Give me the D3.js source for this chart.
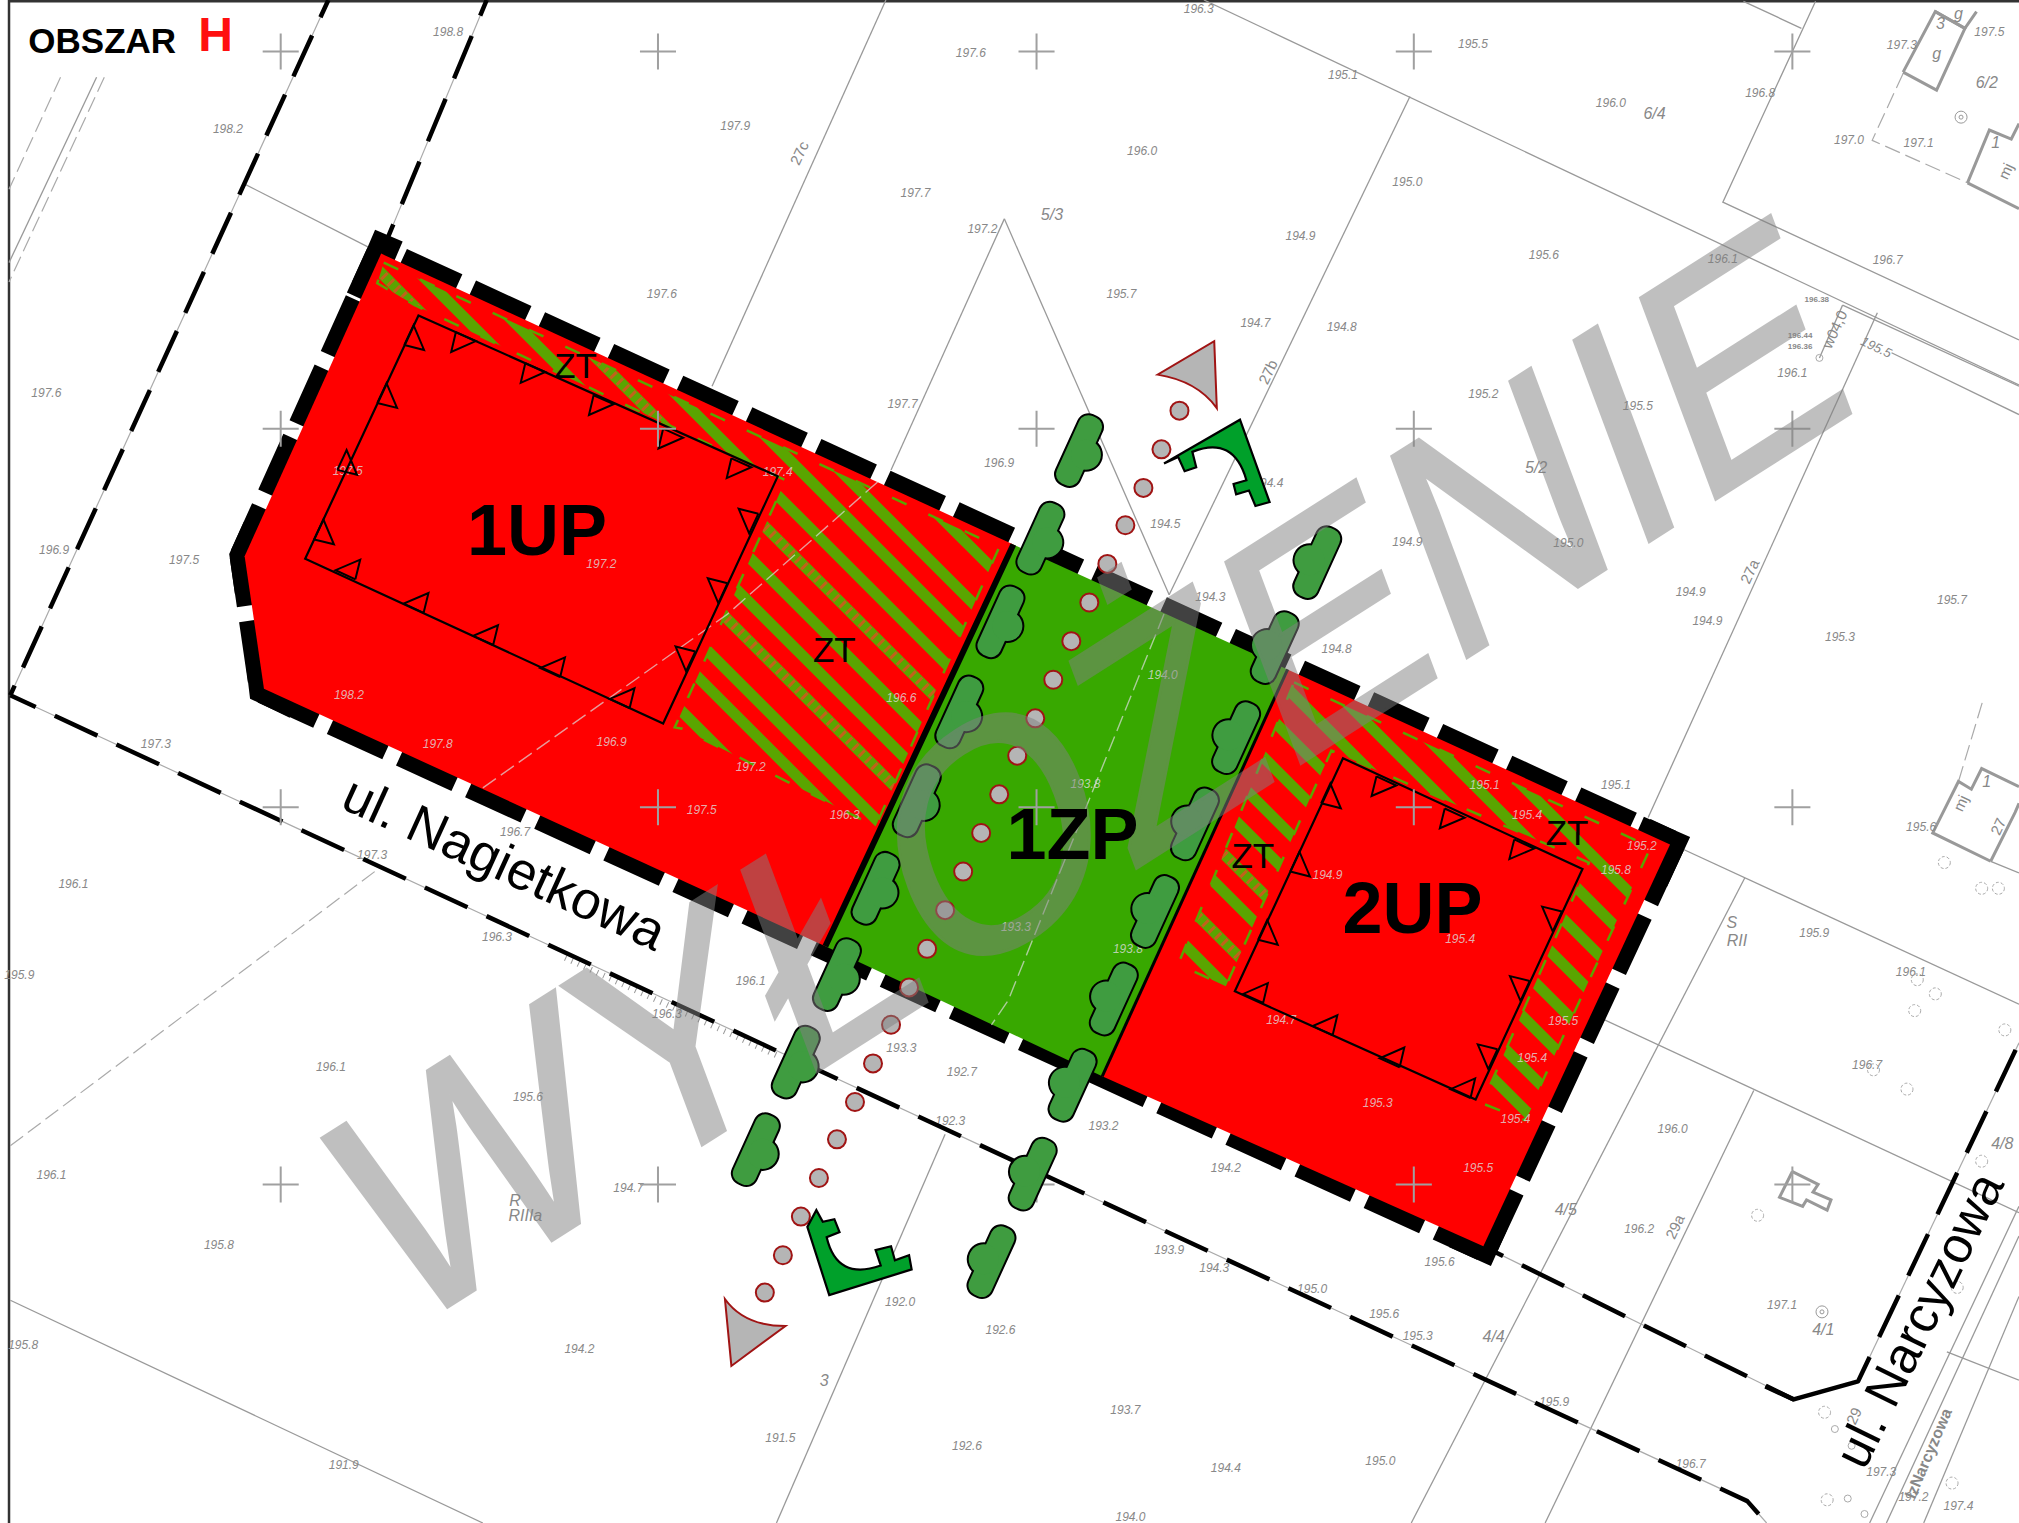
<!DOCTYPE html>
<html>
<head>
<meta charset="utf-8">
<script src="https://cdn.jsdelivr.net/npm/d3@7"></script>
<style>
	html, body { margin: 0; padding: 0; background: white; }
	svg { display: block; }
	text { font-family: "Liberation Sans", Arial, sans-serif; }
</style>
</head>
<body>
<div id="plan"></div>
<script>
'use strict'

// everything below in a 1568 x 1183 base
var gridX = [218, 511, 805, 1098, 1392];
var gridY = [40, 333, 627, 920];

var parcelLines = [
	[[190,143],[296,197]],
	[[688,0],[553,300]],
	[[780,170],[692,365]],
	[[780,170],[908,462]],
	[[1095,75],[908,462]],
	[[935,0],[1568,299]],
	[[1354,1],[1399,22]],
	[[1410,1],[1338,157],[1568,264]],
	[[1458,243],[1280,635]],
	[[1431,237],[1568,300]],
	[[1431,237],[1413,278]],
	[[1469,274],[1568,322]],
	[[1297,655],[1568,780]],
	[[1235,787],[1568,942]],
	[[1355,682],[1096,1183]],
	[[1362,847],[1200,1183]],
	[[1568,937],[1452,1183]],
	[[1568,960],[1465,1183]],
	[[1568,1007],[1494,1183]],
	[[1512,1050],[1568,1072]],
	[[8,1010],[375,1183]],
	[[734,881],[603,1183]],
	[[75,60],[7,204]],
	[[1546,669],[1568,678]]
];
var dashedLines = [
	[[47,60],[7,147]],
	[[81,60],[7,219]],
	[[1478,57],[1454,109],[1528,142]],
	[[8,890],[295,674]],
	[[1521,607],[1540,544]]
];
var paleLines = [
	[[375,612],[565,477],[682,374]],
	[[904,477],[783,777],[770,796]]
];
var buildings = [
	[[1478,56],[1504,70],[1526,22],[1503,9],[1478,56]],
	[[1503,9],[1526,22],[1535,9]],
	[[1528,142],[1545,101],[1562,108],[1568,96]],
	[[1528,142],[1568,162]],
	[[1546,669],[1501,647],[1521,607],[1531,613],[1539,597],[1568,611]],
	[[1546,669],[1565,631],[1568,624]],
	[[1392,910],[1412,920],[1408,926],[1422,932],[1419,940],[1403,932],[1400,937],[1382,930],[1392,910]]
];
var dashedCircles = [[1455,831],[1481,846],[1539,902],[1365,944],[1520,1000],[1417,1097],[1419,1165],[1516,1152],[1510,670],[1539,690],[1552,690],[1489,761],[1503,772],[1487,785],[1557,800]];
var smallCircles = [[1425,1110],[1438,1123],[1435,1164],[1448,1176],[1413,278]];
var wells = [[1523,91],[1415,1019]];

var roads = [
	{ pts: [[255,0],[8,540]], dash: "45 20", offset: -39 },
	{ pts: [[378,0],[296,197]], dash: "46 22", offset: -39 },
	{ pts: [[8,540],[1357,1166],[1372,1183]], dash: "47 21", offset: -49 },
	{ pts: [[1152,968],[1393,1087]], dash: "47 21", offset: -43 },
	{ pts: [[1452,1054],[1568,810]], dash: "46 22", offset: -22 },
	{ pts: [[1371,1077],[1393,1087],[1443,1073],[1452,1054]], dash: null, offset: 0 }
];

// outer edges of the plan with the start of their dash pattern
var edges = [
	{ pts: [[296,197],[1297,656]], offset: -21.5 },
	{ pts: [[1297,656],[1152,968]], offset: 0 },
	{ pts: [[205,535],[1152,968]], offset: 0 },
	{ pts: [[205,535],[190,432]], offset: -8.5 },
	{ pts: [[296,197],[190,432]], offset: 23.5 }
];
var corners = [
	[[302,183],[296,197],[280,232]],
	[[1272,645],[1297,656],[1284,684]],
	[[1160,950],[1152,968],[1130,958]],
	[[202,510],[205,535],[230,547]],
	[[200,410],[190,432],[194,460]]
];
var area1UP = [[296,197],[787,423],[641,735],[205,535],[190,432]];
var area1ZP = [[787,423],[1000,520],[856,836],[641,735]];
var area2UP = [[1000,520],[1297,656],[1152,968],[856,836]];

var hatch1 = [[298,204],[776,425],[680,642],[530,566],[524,565],[610,373],[322,237],[293,220]];
var hatch2 = [[1005,530],[1282,658],[1184,870],[1151,857],[1234,670],[1034,583],[952,766],[915,749]];
var stripes1 = [-329,-287,-256,-219,-185,-149,-114,-84,-44,-16,23];
var stripes2 = [-572,-535,-500,-465,-429,-393,-354,-322,-287,-258,-219,-186];
var brown1 = [-185,-84];
var brown2 = [-287,-219];

var build1 = [[325,245],[604,370],[515,562],[237,434]];
var build2 = [[1043,589],[1229,675],[1146,854],[959,770]];
// corner index of the edge + start of the triangle on it
var teeth1 = [
	[0,[354,258]],[0,[408,282]],[0,[461,307]],[0,[515,333]],[0,[568,356]],
	[1,[589,399]],[1,[565,453]],[1,[540,506]],
	[2,[489,550]],[2,[435,526]],[2,[383,501]],[2,[329,476]],[2,[276,450]],
	[3,[244,419]],[3,[262,365]],[3,[293,313]],[3,[314,268]]
];
var teeth2 = [
	[0,[1069,603]],[0,[1122,628]],[0,[1176,652]],
	[1,[1213,708]],[1,[1188,762]],[1,[1163,815]],
	[2,[1142,853]],[2,[1087,829]],[2,[1035,804]],[2,[981,779]],
	[3,[977,730]],[3,[1002,677]],[3,[1026,624]]
];

var treesLeft = [[838,350],[808,418],[777,483],[745,553],[712,622],[680,690],[650,757],[618,825],[587,893]];
var treesRight = [[1023,437],[990,503],[960,573],[928,640],[897,708],[865,776],[833,843],[802,912],[770,980]];
var dots = [[916,319],[902,349],[888,379],[874,408],[860,438],[846,468],[832,498],[818,528],[804,558],[790,587],[776,617],[762,647],[748,677],[734,707],[720,737],[706,767],[692,796],[678,826],[664,856],[650,885],[636,915],[622,945],[608,975],[594,1004]];

var gateTop = [[968,373],[926,351],[929,363],[920,366],[915,355],[904,360],[963,326],[986,390],[975,393],[970,381],[960,384],[958,376]];
var gateTopCtrl = [958,338];
var gateBottom = [[642,961],[684,983],[680,971],[692,968],[695,979],[706,975],[708,986],[644,1006],[627,953],[634,940],[639,949],[648,947],[652,957]];
var gateBottomCtrl = [650,995];
var markerTop = [[899,291],[943,265],[945,317]];
var markerTopCtrl = [930,296];
var markerBottom = [[610,1030],[568,1061],[563,1009]];
var markerBottomCtrl = [578,1030];

var heights = [
	["198.8",348,25],["197.6",754,41],["196.3",931,7],["195.5",1144,34],["195.1",1043,58],["198.2",177,100],["197.9",571,98],["196.0",887,117],["196.0",1251,80],["195.0",1093,141],
	["197.7",711,150],["197.2",763,178],["194.9",1010,183],["195.6",1199,198],["196.7",1466,202],["196.1",1338,201],["197.6",514,228],["195.7",871,228],["194.7",975,251],["194.8",1042,254],
	["197.6",36,305],["197.7",701,314],["195.2",1152,306],["195.5",1272,315],["196.1",1392,290],["196.9",776,360],["194.5",905,407],["194.4",985,375],["196.9",42,427],["197.5",143,435],
	["194.9",1093,421],["195.0",1218,422],["194.3",940,464],["194.9",1313,460],["194.9",1326,482],["195.7",1516,466],["195.3",1429,495],["194.8",1038,504],["195.1",1255,610],["197.3",121,578],
	["197.3",289,664],["196.7",400,646],["196.1",57,687],["196.3",386,728],["195.9",15,757],["196.1",583,762],["196.3",518,788],["196.1",257,829],["195.6",410,852],["194.7",488,923],
	["196.1",40,913],["195.8",170,967],["193.3",700,814],["192.7",747,833],["192.3",738,871],["193.2",857,875],["194.2",952,907],["193.9",908,971],["194.3",943,985],["195.0",1019,1001],
	["195.6",1075,1021],["195.3",1101,1038],["195.6",1118,980],["192.0",699,1011],["192.6",777,1033],["195.8",18,1045],["194.2",450,1048],["191.5",606,1117],["192.6",751,1123],["193.7",874,1095],
	["194.4",952,1140],["195.0",1072,1135],["195.9",1207,1089],["196.7",1313,1137],["191.9",267,1138],["194.0",878,1178],["197.4",1521,1170],["197.2",1486,1163],["197.3",1461,1143],["197.1",1384,1014],
	["196.2",1273,955],["196.0",1299,877],["196.7",1450,827],["195.9",1409,725],["196.1",1484,755],["195.6",1492,642],["197.5",1545,25],["197.3",1477,35],["196.8",1367,72],["197.0",1436,109],["197.1",1490,111]
];
var heightsOnFill = [
	["197.5",270,366],["197.2",467,438],["197.4",604,367],["198.2",271,540],["197.8",340,578],["196.9",475,576],["197.2",583,596],["197.5",545,629],["196.3",656,633],["196.6",700,542],
	["194.9",1031,680],["195.4",1134,729],["194.7",995,792],["195.3",1070,857],["195.5",1148,907],["195.4",1190,822],["195.4",1177,869],["195.5",1214,793],["195.1",1153,610],["195.4",1186,633],
	["195.2",1275,657],["195.8",1255,676],["193.8",843,609],["193.3",789,720],["193.8",876,737],["194.0",903,524]
];
var parcelNames = [["5/3",817,166],["6/4",1285,88],["6/2",1543,64],["5/2",1193,363],["4/5",1216,939],["4/4",1160,1038],["4/1",1416,1032],["4/8",1555,888],["3",640,1072],["RIIIa",408,944],["S",1345,716],["RII",1349,730],["R",400,932],["1",1543,607],["1",1550,110],["3",1507,18],["g",1504,41],["g",1521,10]];
var rotatedNames = [["27c",621,119],["27b",985,289],["27a",1359,444],["29a",1301,953],["29",1440,1100],["mj",1523,624],["27",1552,642],["mj",1558,133],["w04,0",1425,256]];
var tinyBold = [["196.38",1411,232],["196.44",1398,260],["196.36",1398,269]];
var zoneLabels = [["1UP",417,431],["1ZP",833,667],["2UP",1097,725]];
var ztLabels = [["ZT",447,294],["ZT",648,514],["ZT",973,674],["ZT",1217,656]];

var width = 2019;
var height = 1523;

var x = d3.scaleLinear().domain([0, 1568]).range([0, width]);
var y = d3.scaleLinear().domain([0, 1183]).range([0, height]);

var line = d3.line().x(function(d){ return x(d[0]); }).y(function(d){ return y(d[1]); });

function pointXY(p){ return x(p[0]) + "," + y(p[1]); }

// first point -> curve -> remaining points
function curved(pts, ctrl){
	var s = "M" + pointXY(pts[0]) + "Q" + pointXY(ctrl) + " " + pointXY(pts[1]);
	pts.slice(2).forEach(function(p){ s += "L" + pointXY(p); });
	return s + "Z";
}

function tooth(rect, e){
	var a = rect[e[0]], b = rect[(e[0] + 1) % 4];
	var l = Math.hypot(b[0]-a[0], b[1]-a[1]);
	var u = [(b[0]-a[0])/l, (b[1]-a[1])/l];
	var n = [-u[1], u[0]];
	var p = e[1];
	return [p, [p[0]+u[0]*17, p[1]+u[1]*17], [p[0]+u[0]*3+n[0]*15.5, p[1]+u[1]*3+n[1]*15.5], p];
}

var svg = d3.select("#plan")
	.append("svg")
	.attr("width", width)
	.attr("height", height)
	.style("background", "white");

// frame
svg.append("path").attr("d", line([[7,1183],[7,1],[1568,1]]))
	.attr("fill", "none").attr("stroke", "#333").attr("stroke-width", 2.5);

// base map
svg.append("g").selectAll("path").data(parcelLines).enter().append("path")
	.attr("d", line).attr("fill", "none").attr("stroke", "#999").attr("stroke-width", 1.3);
svg.append("g").selectAll("path").data(dashedLines).enter().append("path")
	.attr("d", line).attr("fill", "none").attr("stroke", "#aaa").attr("stroke-width", 1.2).attr("stroke-dasharray", "16 6");
svg.append("g").selectAll("path").data(buildings).enter().append("path")
	.attr("d", line).attr("fill", "none").attr("stroke", "#999").attr("stroke-width", 3);
svg.append("g").selectAll("circle").data(dashedCircles).enter().append("circle")
	.attr("cx", function(d){ return x(d[0]); }).attr("cy", function(d){ return y(d[1]); }).attr("r", 6)
	.attr("fill", "none").attr("stroke", "#aaa").attr("stroke-width", 1).attr("stroke-dasharray", "3 2");
svg.append("g").selectAll("circle").data(smallCircles).enter().append("circle")
	.attr("cx", function(d){ return x(d[0]); }).attr("cy", function(d){ return y(d[1]); }).attr("r", 3.5)
	.attr("fill", "none").attr("stroke", "#aaa").attr("stroke-width", 1);
svg.append("g").selectAll("circle").data(wells.concat(wells)).enter().append("circle")
	.attr("cx", function(d){ return x(d[0]); }).attr("cy", function(d){ return y(d[1]); })
	.attr("r", function(d, i){ return i < wells.length ? 6 : 2; })
	.attr("fill", "none").attr("stroke", "#999").attr("stroke-width", 1);

// ticks along the road
svg.append("path").attr("d", line([[439,744],[606,821]]))
	.attr("fill", "none").attr("stroke", "#999").attr("stroke-width", 6).attr("stroke-dasharray", "1 6");

svg.append("g").selectAll("text").data(heights).enter().append("text")
	.attr("x", function(d){ return x(d[1]); }).attr("y", function(d){ return y(d[2]) + 4; })
	.attr("text-anchor", "middle").attr("font-size", 12).attr("font-style", "italic").attr("fill", "#888")
	.text(function(d){ return d[0]; });
svg.append("g").selectAll("text").data(parcelNames).enter().append("text")
	.attr("x", function(d){ return x(d[1]); }).attr("y", function(d){ return y(d[2]) + 6; })
	.attr("text-anchor", "middle").attr("font-size", 16).attr("font-style", "italic").attr("fill", "#888")
	.text(function(d){ return d[0]; });
svg.append("g").selectAll("text").data(rotatedNames).enter().append("text")
	.attr("transform", function(d){ return "translate(" + x(d[1]) + "," + y(d[2]) + ") rotate(-65)"; })
	.attr("text-anchor", "middle").attr("dy", 5).attr("font-size", 15).attr("fill", "#888")
	.text(function(d){ return d[0]; });
svg.append("g").selectAll("text").data(tinyBold).enter().append("text")
	.attr("x", function(d){ return x(d[1]); }).attr("y", function(d){ return y(d[2]) + 3; })
	.attr("text-anchor", "middle").attr("font-size", 8).attr("font-weight", "bold").attr("fill", "#888")
	.text(function(d){ return d[0]; });
svg.append("text")
	.attr("transform", "translate(" + x(1457) + "," + y(270) + ") rotate(25)")
	.attr("text-anchor", "middle").attr("dy", 4).attr("font-size", 13).attr("font-style", "italic").attr("fill", "#888")
	.text("195.5");

// streets: thin line + thick dashes
svg.append("g").selectAll("path").data(roads).enter().append("path")
	.attr("d", function(d){ return line(d.pts); }).attr("fill", "none").attr("stroke", "#aaa").attr("stroke-width", 1.2);
svg.append("g").selectAll("path").data(roads).enter().append("path")
	.attr("d", function(d){ return line(d.pts); }).attr("fill", "none").attr("stroke", "black").attr("stroke-width", 4.5)
	.attr("stroke-linejoin", "round")
	.attr("stroke-dasharray", function(d){ return d.dash; })
	.attr("stroke-dashoffset", function(d){ return d.offset; });

// plan boundary, the fills below cover its inner half
svg.append("g").selectAll("path").data(edges).enter().append("path")
	.attr("d", function(d){ return line(d.pts); })
	.attr("fill", "none").attr("stroke", "black").attr("stroke-width", 30)
	.attr("stroke-dasharray", "61 15").attr("stroke-dashoffset", function(d){ return d.offset; });
svg.append("g").selectAll("path").data(corners).enter().append("path")
	.attr("d", line).attr("fill", "none").attr("stroke", "black").attr("stroke-width", 30).attr("stroke-linejoin", "miter");

svg.append("path").attr("d", line(area1UP) + "Z").attr("fill", "#ff0000");
svg.append("path").attr("d", line(area2UP) + "Z").attr("fill", "#ff0000");
svg.append("path").attr("d", line(area1ZP) + "Z").attr("fill", "#38a800");

// ZT hatch
var defs = svg.append("defs");
defs.append("clipPath").attr("id", "clip1").append("path").attr("d", line(hatch1) + "Z");
defs.append("clipPath").attr("id", "clip2").append("path").attr("d", line(hatch2) + "Z");

function stripe(c){ return line([[100, 100 + c], [1500, 1500 + c]]); }

[[ "clip1", stripes1, brown1, hatch1 ], [ "clip2", stripes2, brown2, hatch2 ]].forEach(function(h){
	var g = svg.append("g").attr("clip-path", "url(#" + h[0] + ")");
	g.selectAll("path.stripe").data(h[1]).enter().append("path").attr("class", "stripe")
		.attr("d", stripe).attr("fill", "none").attr("stroke", "#5aa500").attr("stroke-width", 11);
	g.selectAll("path.tick").data(h[2]).enter().append("path").attr("class", "tick")
		.attr("d", stripe).attr("fill", "none").attr("stroke", "#c2611a").attr("stroke-width", 9).attr("stroke-dasharray", "3 6");
	svg.append("path").attr("d", line(h[3]) + "Z")
		.attr("fill", "none").attr("stroke", "#5aa500").attr("stroke-width", 2.5).attr("stroke-dasharray", "16 24");
});

// faint lines showing through the zones
svg.append("g").selectAll("path").data(paleLines).enter().append("path")
	.attr("d", line).attr("fill", "none").attr("stroke", "#ddd").attr("stroke-opacity", 0.7)
	.attr("stroke-width", 1.4).attr("stroke-dasharray", "16 6");

// edges between the zones
svg.append("path").attr("d", line([[787,423],[641,735]])).attr("stroke", "black").attr("stroke-width", 6).attr("fill", "none");
svg.append("path").attr("d", line([[1000,520],[856,836]])).attr("stroke", "black").attr("stroke-width", 3).attr("fill", "none");

svg.append("g").selectAll("text").data(heightsOnFill).enter().append("text")
	.attr("x", function(d){ return x(d[1]); }).attr("y", function(d){ return y(d[2]) + 4; })
	.attr("text-anchor", "middle").attr("font-size", 12).attr("font-style", "italic").attr("fill", "#ddd").attr("fill-opacity", 0.8)
	.text(function(d){ return d[0]; });

// building lines with teeth
[[build1, teeth1], [build2, teeth2]].forEach(function(b){
	svg.append("path").attr("d", line(b[0]) + "Z").attr("fill", "none").attr("stroke", "black").attr("stroke-width", 2.2);
	svg.append("g").selectAll("path").data(b[1]).enter().append("path")
		.attr("d", function(d){ return line(tooth(b[0], d)); })
		.attr("fill", "none").attr("stroke", "black").attr("stroke-width", 2);
});

// grid crosses
gridY.forEach(function(gy){
	gridX.forEach(function(gx){
		svg.append("path").attr("d", line([[gx-14,gy],[gx+14,gy]]) + line([[gx,gy-14],[gx,gy+14]]))
			.attr("stroke", "#a0a0a0").attr("stroke-width", 2).attr("fill", "none");
	});
});

// trees, outline pass first then fill so the bump and the body merge
var trees = treesLeft.map(function(d){ return [d[0], d[1], 1]; })
	.concat(treesRight.map(function(d){ return [d[0], d[1], -1]; }));

function drawTrees(stroke, fill, sw){
	var g = svg.append("g").selectAll("g").data(trees).enter().append("g")
		.attr("transform", function(d){ return "translate(" + x(d[0]) + "," + y(d[1]) + ") rotate(24.5)"; });
	g.append("rect").attr("x", -12).attr("y", -37).attr("width", 24).attr("height", 74).attr("rx", 10)
		.attr("fill", fill).attr("stroke", stroke).attr("stroke-width", sw);
	g.append("circle").attr("cx", function(d){ return d[2] * 8; }).attr("cy", 1).attr("r", 15)
		.attr("fill", fill).attr("stroke", stroke).attr("stroke-width", sw);
}
drawTrees("black", "black", 4);
drawTrees("none", "#3f9c40", 0);

// alley
svg.append("g").selectAll("circle").data(dots).enter().append("circle")
	.attr("cx", function(d){ return x(d[0]); }).attr("cy", function(d){ return y(d[1]); }).attr("r", 9)
	.attr("fill", "#b5b5b5").attr("stroke", "#a01414").attr("stroke-width", 2);

[[gateTop, gateTopCtrl], [gateBottom, gateBottomCtrl]].forEach(function(g){
	svg.append("path").attr("d", curved(g[0], g[1]))
		.attr("fill", "#00a02a").attr("stroke", "black").attr("stroke-width", 2.2);
});
[[markerTop, markerTopCtrl], [markerBottom, markerBottomCtrl]].forEach(function(g){
	svg.append("path").attr("d", curved([g[0][0], g[0][2], g[0][1]], g[1]))
		.attr("fill", "#b5b5b5").attr("stroke", "#a01414").attr("stroke-width", 2);
});

// watermark, the original letters lean so it needs a skew on top of the rotation
svg.append("text")
	.attr("transform", "translate(396,1340) rotate(-32.5) skewX(-12) scale(1,1.035)")
	.attr("font-size", 295).attr("fill", "#818181").attr("stroke", "#818181").attr("stroke-width", 3)
	.attr("opacity", 0.5)
	.text("WYŁOŻENIE");

// labels
svg.append("g").selectAll("text").data(zoneLabels).enter().append("text")
	.attr("x", function(d){ return x(d[1]); }).attr("y", function(d){ return y(d[2]); })
	.attr("text-anchor", "middle").attr("font-size", 72).attr("font-weight", "bold").attr("fill", "black")
	.text(function(d){ return d[0]; });
svg.append("g").selectAll("text").data(ztLabels).enter().append("text")
	.attr("x", function(d){ return x(d[1]); }).attr("y", function(d){ return y(d[2]); })
	.attr("text-anchor", "middle").attr("font-size", 35).attr("fill", "black")
	.text(function(d){ return d[0]; });

svg.append("text").attr("x", x(22)).attr("y", y(41)).attr("font-size", 35).attr("font-weight", "bold").text("OBSZAR");
svg.append("text").attr("x", x(154)).attr("y", y(40)).attr("font-size", 48).attr("font-weight", "bold").attr("fill", "#ff1010").text("H");

svg.append("text")
	.attr("transform", "translate(" + x(263) + "," + y(627) + ") rotate(24.5)")
	.attr("font-size", 53).text("ul. Nagietkowa");
svg.append("text")
	.attr("transform", "translate(" + x(1448) + "," + y(1143) + ") rotate(-64)")
	.attr("font-size", 51).text("ul. Narcyzowa");
svg.append("text")
	.attr("transform", "translate(" + x(1487) + "," + y(1165) + ") rotate(-67)")
	.attr("font-size", 16).attr("font-weight", "bold").attr("fill", "#888").text("lzNarcyzowa");
</script>
</body>
</html>
